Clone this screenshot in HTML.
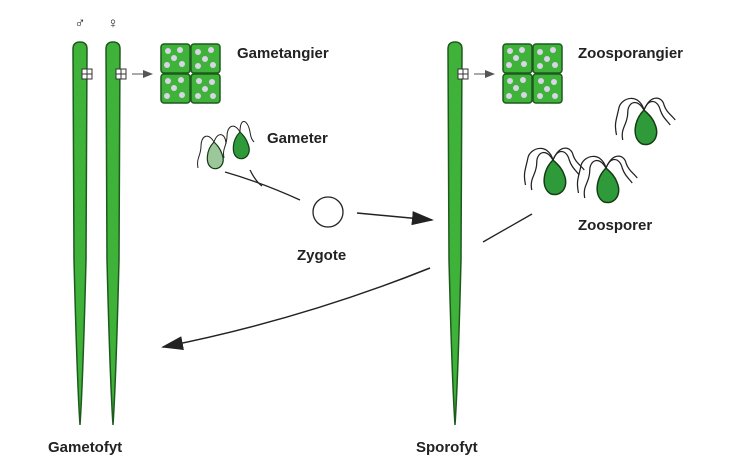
<!DOCTYPE html>
<html><head><meta charset="utf-8"><style>
html,body{margin:0;padding:0;background:#fff;}
svg{display:block;}
text{font-family:"Liberation Sans",Arial,sans-serif;font-weight:bold;fill:#222;}
</style></head><body>
<svg width="745" height="472" viewBox="0 0 745 472">
<defs>
<marker id="ah" markerWidth="10" markerHeight="8" refX="9" refY="4" orient="auto" markerUnits="userSpaceOnUse" viewBox="0 0 10 8">
<path d="M0,0 L10,4 L0,8 Z" fill="#555"/></marker>
<marker id="ab" markerWidth="22" markerHeight="14" refX="20" refY="7" orient="auto" markerUnits="userSpaceOnUse" viewBox="0 0 22 14">
<path d="M0,0 L22,7 L0,14 Z" fill="#222"/></marker>
<g id="box">
<rect x="0" y="0" width="29" height="29" rx="3" fill="#3fb23a" stroke="#1e5a1e" stroke-width="1.5"/>
<rect x="30" y="0" width="29" height="29" rx="3" fill="#3fb23a" stroke="#1e5a1e" stroke-width="1.5"/>
<rect x="0" y="30" width="29" height="29" rx="3" fill="#3fb23a" stroke="#1e5a1e" stroke-width="1.5"/>
<rect x="30" y="30" width="29" height="29" rx="3" fill="#3fb23a" stroke="#1e5a1e" stroke-width="1.5"/>
<g fill="#d9d4e6">
<circle cx="7" cy="7" r="3"/><circle cx="19" cy="6" r="3"/><circle cx="13" cy="14" r="3"/><circle cx="6" cy="21" r="3"/><circle cx="21" cy="20" r="3"/>
<circle cx="37" cy="8" r="3"/><circle cx="50" cy="6" r="3"/><circle cx="44" cy="15" r="3"/><circle cx="37" cy="22" r="3"/><circle cx="52" cy="21" r="3"/>
<circle cx="7" cy="37" r="3"/><circle cx="20" cy="36" r="3"/><circle cx="13" cy="44" r="3"/><circle cx="6" cy="52" r="3"/><circle cx="21" cy="51" r="3"/>
<circle cx="38" cy="37" r="3"/><circle cx="51" cy="38" r="3"/><circle cx="44" cy="45" r="3"/><circle cx="37" cy="52" r="3"/><circle cx="52" cy="52" r="3"/>
</g></g>
<g id="spore">
<path d="M0,0 C-8,8 -10,22 -2,27 C6,30 13,22 9,12 C7,6 3,3 0,0 Z" fill="#2e9a3a" stroke="#143c14" stroke-width="1.2"/>
<path d="M0,0 C-6,-10 -13,-6 -13,2 C-13,12 -19,14 -17,24" fill="none" stroke="#222" stroke-width="1"/>
<path d="M0,0 C-4,-14 -18,-10 -20,-2 C-22,8 -24,10 -22,20" fill="none" stroke="#222" stroke-width="1"/>
<path d="M0,0 C4,-10 11,-8 13,0 C15,6 18,8 21,12" fill="none" stroke="#222" stroke-width="1"/>
<path d="M0,0 C6,-14 15,-10 16,-4 C18,2 22,4 25,8" fill="none" stroke="#222" stroke-width="1"/>
</g>
<g id="grid"><rect x="-5" y="-5" width="10" height="10" fill="#fff" stroke="#333" stroke-width="1"/><line x1="0" y1="-5" x2="0" y2="5" stroke="#333"/><line x1="-5" y1="0" x2="5" y2="0" stroke="#333"/></g>
</defs>

<path d="M73,49 Q73,42 80,42 Q87,42 87,49 L86,260 Q83,380 80,425 Q77,380 74,260 Z" fill="#3fb23a" stroke="#1e5a1e" stroke-width="1.5"/>
<path d="M106,49 Q106,42 113,42 Q120,42 120,49 L119,260 Q116,380 113,425 Q110,380 107,260 Z" fill="#3fb23a" stroke="#1e5a1e" stroke-width="1.5"/>
<path d="M448,49 Q448,42 455,42 Q462,42 462,49 L461,260 Q458,380 455,425 Q452,380 449,260 Z" fill="#3fb23a" stroke="#1e5a1e" stroke-width="1.5"/>
<use href="#grid" x="87" y="74"/>
<use href="#grid" x="121" y="74"/>
<use href="#grid" x="463" y="74"/>
<line x1="132" y1="74" x2="152" y2="74" stroke="#555" stroke-width="1" marker-end="url(#ah)"/>
<line x1="474" y1="74" x2="494" y2="74" stroke="#555" stroke-width="1" marker-end="url(#ah)"/>
<use href="#box" x="161" y="44"/>
<use href="#box" x="503" y="44"/>

<text x="80" y="28" font-size="15" text-anchor="middle" style="font-weight:normal">♂</text>
<text x="113" y="28" font-size="15" text-anchor="middle" style="font-weight:normal">♀</text>

<text x="237" y="58" font-size="15">Gametangier</text>
<text x="578" y="58" font-size="15">Zoosporangier</text>
<text x="267" y="143" font-size="15">Gameter</text>
<text x="297" y="260" font-size="15">Zygote</text>
<text x="578" y="230" font-size="15">Zoosporer</text>
<text x="48" y="452" font-size="15">Gametofyt</text>
<text x="416" y="452" font-size="15">Sporofyt</text>

<g transform="translate(214,142)"><path d="M0,0 C-8,8 -9,22 -2,26 C5,29 12,22 8,12 C6,6 3,3 0,0 Z" fill="#9cc79a" stroke="#143c14" stroke-width="1.2"/>
<path d="M0,0 C-6,-10 -13,-6 -13,4 C-13,14 -18,16 -16,26" fill="none" stroke="#222"/><path d="M0,0 C4,-12 12,-8 12,2" fill="none" stroke="#222"/></g>
<g transform="translate(240,132)"><path d="M0,0 C-8,8 -9,22 -2,26 C5,29 12,22 8,12 C6,6 3,3 0,0 Z" fill="#2e9a3a" stroke="#143c14" stroke-width="1.2"/>
<path d="M0,0 C-6,-10 -13,-6 -13,4 C-13,14 -18,16 -16,26" fill="none" stroke="#222"/><path d="M0,0 C0,-16 8,-12 10,0 C11,6 12,8 14,10" fill="none" stroke="#222"/></g>
<path d="M225,172 Q260,182 300,200" fill="none" stroke="#222" stroke-width="1.3"/>
<path d="M250,170 Q256,182 262,186" fill="none" stroke="#222" stroke-width="1.3"/>
<circle cx="328" cy="212" r="15" fill="#fff" stroke="#222" stroke-width="1.3"/>
<line x1="357" y1="213" x2="432" y2="220" stroke="#222" stroke-width="1.5" marker-end="url(#ab)"/>
<path d="M430,268 Q300,320 163,347" fill="none" stroke="#222" stroke-width="1.5" marker-end="url(#ab)"/>
<line x1="483" y1="242" x2="532" y2="214" stroke="#222" stroke-width="1.3"/>

<use href="#spore" transform="translate(553,160) scale(1.25)"/>
<use href="#spore" transform="translate(606,168) scale(1.25)"/>
<use href="#spore" transform="translate(644,110) scale(1.25)"/>
</svg>
</body></html>
